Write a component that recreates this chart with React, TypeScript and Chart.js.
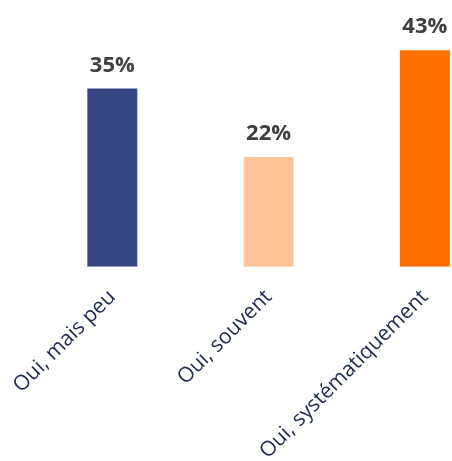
import React, { useEffect, useRef } from "react";
import { Chart, registerables } from "chart.js";

Chart.register(...registerables);

const categories = ["Oui, mais peu", "Oui, souvent", "Oui, systématiquement"];
const values = [35.4, 21.8, 43.0];
const barColors = ["#364785", "#FFC599", "#FF6F00"];
const valueLabels = values.map((v) => `${Math.round(v)}%`);

const CANVAS_W = 496;
const CANVAS_H = 474;
const CANVAS_LEFT = 7;

const valueLabelPlugin = {
  id: "valueLabels",
  afterDatasetsDraw(chart: any) {
    const ctx = chart.ctx;
    const meta = chart.getDatasetMeta(0);
    ctx.save();
    ctx.font = "bold 22px 'Open Sans'";
    ctx.fillStyle = "#404040";
    ctx.textAlign = "center";
    ctx.textBaseline = "alphabetic";
    meta.data.forEach((bar: any, i: number) => {
      ctx.fillText(valueLabels[i], bar.x, bar.y - 17);
    });
    ctx.restore();
  },
};

export default function App() {
  const ref = useRef<HTMLCanvasElement>(null);
  useEffect(() => {
    if (!ref.current) return;
    const chart = new Chart(ref.current, {
      type: "bar",
      data: {
        labels: categories,
        datasets: [
          {
            data: values,
            backgroundColor: barColors,
            borderWidth: 0,
            barPercentage: 0.32,
            categoryPercentage: 1,
          },
        ],
      },
      options: {
        responsive: false,
        animation: false,
        layout: { padding: { top: 15, bottom: 0, left: 0, right: 0 } },
        plugins: {
          legend: { display: false },
          tooltip: { enabled: false },
        },
        scales: {
          x: {
            grid: { display: false },
            border: { display: false },
            ticks: {
              color: "#1F2A4F",
              font: { family: "'Open Sans'", size: 21 },
              minRotation: 45,
              maxRotation: 45,
              padding: 10,
            },
          },
          y: {
            display: false,
            min: 0,
            max: 50,
          },
        },
      },
      plugins: [valueLabelPlugin],
    });
    return () => chart.destroy();
  }, []);
  return (
    <div style={{ position: "absolute", left: 0, top: 0, width: 452, height: 461, overflow: "hidden", background: "#fff" }}>
      <canvas
        ref={ref}
        width={CANVAS_W}
        height={CANVAS_H}
        style={{ position: "absolute", left: CANVAS_LEFT, top: 0, width: CANVAS_W, height: CANVAS_H }}
      />
    </div>
  );
}
